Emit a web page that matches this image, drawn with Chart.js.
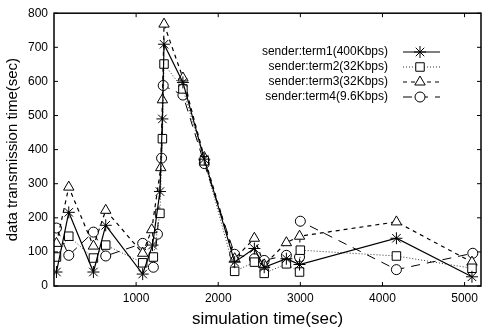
<!DOCTYPE html>
<html>
<head>
<meta charset="utf-8">
<script src="https://cdn.jsdelivr.net/npm/chart.js@4.4.1/dist/chart.umd.min.js"></script>
<style>
  html, body { margin: 0; padding: 0; background: #fff; }
  #wrap { width: 488px; height: 330px; position: relative; }
</style>
</head>
<body>
<div id="wrap"><canvas id="chart-line"></canvas></div>
<script>
// simulation time (sec) / transmission time (sec) per sender
const term1Times = [30, 180, 480, 630, 1080, 1200, 1290, 1320, 1340, 1570, 1830, 2200, 2440, 2560, 2830, 2990, 4170, 5090];
const term1Values = [41, 216, 41, 178, 35, 120, 277, 490, 709, 597, 372, 70, 110, 55, 80, 63, 140, 27];

const term2Times = [30, 180, 480, 630, 1080, 1210, 1290, 1320, 1340, 1570, 1830, 2200, 2440, 2560, 2830, 2990, 3000, 4170, 5090];
const term2Values = [85, 146, 82, 120, 68, 85, 213, 432, 651, 578, 367, 43, 70, 37, 65, 41, 105, 88, 52];

const term3Times = [30, 180, 480, 630, 1080, 1190, 1300, 1320, 1340, 1570, 1830, 2200, 2440, 2560, 2830, 2990, 4170, 5090];
const term3Values = [125, 290, 117, 222, 96, 165, 347, 546, 768, 610, 377, 80, 140, 62, 127, 146, 188, 70];

const term4Times = [30, 180, 480, 630, 1080, 1210, 1260, 1310, 1330, 1570, 1830, 2200, 2440, 2560, 2830, 2990, 3000, 4170, 5100];
const term4Values = [170, 90, 158, 88, 125, 55, 152, 375, 588, 560, 359, 93, 80, 75, 90, 85, 190, 48, 96];

const seriesLabels = [
  "sender:term1(400Kbps)",
  "sender:term2(32Kbps)",
  "sender:term3(32Kbps)",
  "sender:term4(9.6Kbps)",
];
const xTicks = [1000, 2000, 3000, 4000, 5000];
const yTicks = [0, 100, 200, 300, 400, 500, 600, 700, 800];

function toPoints(times, values) {
  return times.map((t, i) => ({ x: t, y: values[i] }));
}

const FONT = "'Liberation Sans', Arial, sans-serif";

// inward ticks on all four sides + frame
const frameTicks = {
  id: "frameTicks",
  afterDraw(chart) {
    const { ctx, chartArea: a, scales } = chart;
    ctx.save();
    ctx.strokeStyle = "#000";
    ctx.lineWidth = 1.5;
    ctx.strokeRect(a.left, a.top, a.right - a.left, a.bottom - a.top);
    ctx.lineWidth = 1;
    ctx.beginPath();
    xTicks.forEach((v) => {
      const px = scales.x.getPixelForValue(v);
      ctx.moveTo(px, a.bottom); ctx.lineTo(px, a.bottom - 4);
      ctx.moveTo(px, a.top); ctx.lineTo(px, a.top + 4);
    });
    yTicks.forEach((v) => {
      const py = scales.y.getPixelForValue(v);
      ctx.moveTo(a.left, py); ctx.lineTo(a.left + 4, py);
      ctx.moveTo(a.right, py); ctx.lineTo(a.right - 4, py);
    });
    ctx.stroke();
    ctx.restore();
  },
};

// legend inside the plot: text on the left, line sample + marker on the right
const sampleLegend = {
  id: "sampleLegend",
  afterDraw(chart) {
    const { ctx } = chart;
    ctx.save();
    ctx.textAlign = "right";
    ctx.textBaseline = "middle";
    chart.data.datasets.forEach((ds, i) => {
      const y = 52 + i * 15;
      ctx.font = "12px " + FONT;
      ctx.fillStyle = "#000";
      ctx.fillText(ds.label, 388, y);
      ctx.beginPath();
      ctx.setLineDash(ds.borderDash || []);
      ctx.lineWidth = ds.borderWidth;
      ctx.strokeStyle = "#000";
      ctx.moveTo(403, y);
      ctx.lineTo(440, y);
      ctx.stroke();
      ctx.setLineDash([]);
      ctx.fillStyle = "#fff";
      ctx.lineWidth = 1;
      Chart.helpers.drawPoint(ctx, {
        pointStyle: ds.pointStyle,
        rotation: 0,
        radius: ds.pointRadius,
        borderWidth: 1,
      }, 420, y);
    });
    ctx.restore();
  },
};

const common = {
  borderColor: "#000",
  backgroundColor: "#fff",
  pointBorderColor: "#000",
  pointBackgroundColor: "#fff",
  pointBorderWidth: 1,
  pointRadius: 5,
  tension: 0,
  fill: false,
};

var ctx1 = document.getElementById("chart-line").getContext("2d");

new Chart(ctx1, {
  type: "line",
  data: {
    datasets: [
      Object.assign({}, common, {
        label: seriesLabels[0],
        data: toPoints(term1Times, term1Values),
        borderWidth: 1.2,
        pointStyle: "star",
        pointRadius: 6,
      }),
      Object.assign({}, common, {
        label: seriesLabels[1],
        data: toPoints(term2Times, term2Values),
        borderWidth: 0.8,
        borderDash: [1, 2],
        pointStyle: "rect",
        pointRadius: 6,
      }),
      Object.assign({}, common, {
        label: seriesLabels[2],
        data: toPoints(term3Times, term3Values),
        borderWidth: 1.2,
        borderDash: [4, 4],
        pointStyle: "triangle",
        pointRadius: 6,
      }),
      Object.assign({}, common, {
        label: seriesLabels[3],
        data: toPoints(term4Times, term4Values),
        borderWidth: 1,
        borderDash: [9, 7],
        pointStyle: "circle",
        pointRadius: 5,
      }),
    ],
  },
  options: {
    responsive: true,
    maintainAspectRatio: false,
    animation: false,
    layout: { padding: { top: 12, right: 1, left: 4, bottom: 0 } },
    plugins: {
      legend: { display: false },
      tooltip: { enabled: false },
    },
    scales: {
      x: {
        type: "linear",
        min: 0,
        max: 5200,
        afterFit: (s) => { s.height = 44; },
        afterBuildTicks: (s) => { s.ticks = xTicks.map((v) => ({ value: v })); },
        grid: { display: false, drawTicks: false },
        border: { display: false },
        ticks: {
          color: "#000",
          padding: 5,
          maxRotation: 0,
          callback: (v) => String(v),
          font: { size: 12, family: FONT },
        },
        title: {
          display: true,
          text: "simulation time(sec)",
          color: "#000",
          padding: { top: 0, bottom: 0 },
          font: { size: 17, family: FONT },
        },
      },
      y: {
        min: 0,
        max: 800,
        afterFit: (s) => { s.width = 50; },
        afterBuildTicks: (s) => { s.ticks = yTicks.map((v) => ({ value: v })); },
        grid: { display: false, drawTicks: false },
        border: { display: false },
        ticks: {
          color: "#000",
          padding: 6,
          font: { size: 12, family: FONT },
        },
        title: {
          display: true,
          text: "data transmission time(sec)",
          color: "#000",
          padding: { top: 0, bottom: 0 },
          font: { size: 15, family: FONT },
        },
      },
    },
  },
  plugins: [frameTicks, sampleLegend],
});
</script>
</body>
</html>
